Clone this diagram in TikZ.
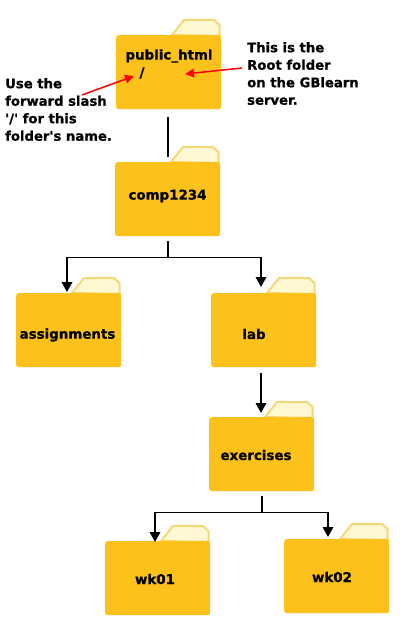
\documentclass[tikz,border=0pt]{standalone}
\usepackage{fontspec}
\newfontfamily\labelfont[BoldFeatures={FakeBold=0.8}]{DejaVu Sans}
\usetikzlibrary{arrows.meta,calc}
\definecolor{folderbody}{HTML}{FCC21B}
\definecolor{tabedge}{HTML}{F3D878}
\definecolor{tabfill}{HTML}{FFF8D2}
\tikzset{
  folderbox/.style={fill=folderbody,draw=none,rounded corners=2.5pt,minimum width=105pt,minimum height=74pt,inner sep=0pt,anchor=north west},
  foldertab/.style={fill=tabfill,draw=tabedge,line width=2pt,line join=round},
  foldertext/.style={font=\labelfont\fontsize{13.4}{16}\selectfont\bfseries,text=black,inner sep=0pt,anchor=center},
  note/.style={font=\labelfont\fontsize{13.2}{17.5}\selectfont\bfseries,text=black,inner sep=0pt,anchor=north west,align=left},
  link/.style={draw=black,line width=1.8pt},
  linkarrow/.style={link,-{Triangle[length=10pt,width=10.5pt]}},
  callout/.style={draw=red,line width=1.5pt,-{Triangle[length=9pt,width=8.5pt]}}
}
\newcommand{\folderat}[5]{%
  \path[foldertab] (#2+56,#3) -- (#2+68,#3-15) -- (#2+98,#3-15) -- (#2+103.5,#3-10) -- (#2+103.5,#3+1) -- cycle;
  \node[folderbox] (#1) at (#2,#3) {};
  \node[foldertext] (#1-label) at (#2+#4,#5+1) {\detokenize{#1}};
}
\begin{document}
\begin{tikzpicture}[x=1pt,y=-1pt]
\useasboundingbox (0,0) rectangle (408,628);
\folderat{public_html}{116}{35}{53}{55}
\folderat{comp1234}{115}{162}{52.5}{195}
\folderat{assignments}{16}{293}{51.5}{334}
\folderat{lab}{211}{293}{43}{333}
\folderat{exercises}{209}{417}{47}{454}
\folderat{wk01}{105}{541}{50}{578}
\folderat{wk02}{284}{539}{48}{576}
\node[foldertext] (slash) at (142,73) {/};
\node[note] (leftnote) at (5,78) {Use the\\forward slash\\'/' for this\\folder's name.};
\node[note] (rightnote) at (247,42) {This is the\\Root folder\\on the GBlearn\\server.};
\coordinate (la) at ($(leftnote.north west)+(77,17)$);
\draw[callout] (la) -- (134,76);
\draw[callout] ($(rightnote.north west)+(-5,26)$) -- (185,74);
% connectors
\coordinate (p1) at ($(public_html.south)+(-1,8)$);
\coordinate (c1) at ($(comp1234.north)+(0.5,-5)$);
\draw[link] (p1) -- (p1 |- c1);
\coordinate (c2) at ($(comp1234.south)+(0.5,5)$);
\coordinate (j1) at ($(c2)+(0,16)$);
\draw[link] (c2) -- (j1);
\coordinate (a1) at (67,292);
\coordinate (l1) at (261,287);
\draw[linkarrow] (j1) -| (a1);
\draw[linkarrow] (j1) -| (l1);
\coordinate (l2) at (261,373);
\coordinate (e1) at (261,413);
\draw[linkarrow] (l2) -- (e1);
\coordinate (e2) at ($(exercises.south)+(0.5,5)$);
\coordinate (j2) at ($(e2)+(0,16)$);
\draw[link] (e2) -- (j2);
\coordinate (w1) at (155,542);
\coordinate (w2) at (328,537);
\draw[linkarrow] (j2) -| (w1);
\draw[linkarrow] (j2) -| (w2);
\end{tikzpicture}
\end{document}
